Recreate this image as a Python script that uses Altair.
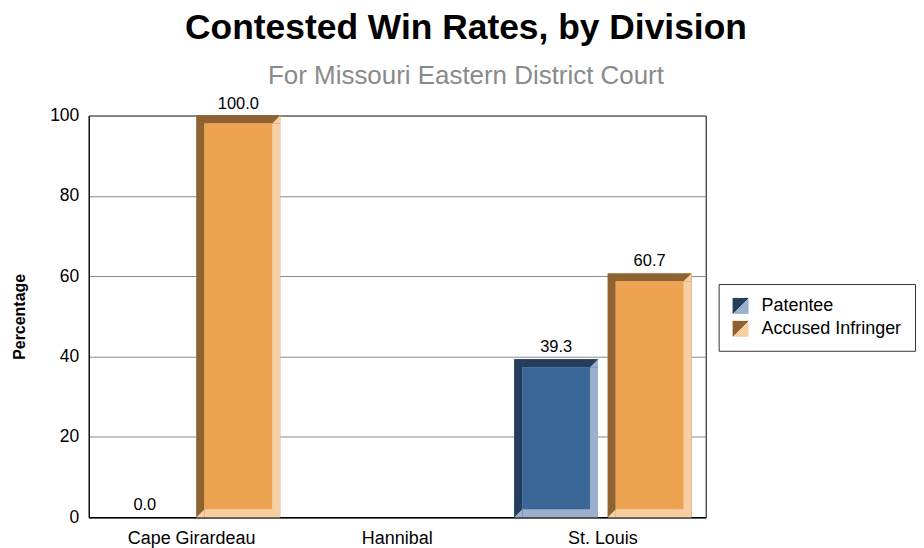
import altair as alt
import pandas as pd

# ---- data ----
divisions = ["Cape Girardeau", "Hannibal", "St. Louis"]
series = ["Patentee", "Accused Infringer"]
row_division = ["Cape Girardeau", "Cape Girardeau", "St. Louis", "St. Louis"]
row_series = ["Patentee", "Accused Infringer", "Patentee", "Accused Infringer"]
row_value = [0.0, 100.0, 39.3, 60.7]
y_ticks = [0, 20, 40, 60, 80, 100]

# ---- styles ----
dark = ["#243d5c", "#8f6231"]
face = ["#3a6698", "#eea352"]
light = ["#9bb0ca", "#f7cfa2"]
FONT = "Liberation Sans"
W, H = 619, 403
BW = W / 3.0
BAR_W = 84
BEV = 8

df = pd.DataFrame({"division": row_division, "series": row_series, "value": row_value})


def grad(d, l):
    return {"expr": "{gradient: 'linear', x1: 0, y1: 0, x2: 1, y2: 1, stops: ["
            "{offset: 0, color: '%s'}, {offset: 0.5, color: '%s'}, "
            "{offset: 0.5, color: '%s'}, {offset: 1, color: '%s'}]}" % (d, d, l, l)}


x_enc = alt.X(
    "division:N",
    scale=alt.Scale(domain=divisions, paddingInner=0, paddingOuter=0),
    axis=alt.Axis(title=None, labelAngle=0, ticks=False, labelFontSize=18,
                  labelFont=FONT, labelColor="black", labelPadding=12,
                  domainColor="black", domainWidth=1.5, grid=False),
)
y_enc = alt.Y(
    "value:Q", stack=None,
    scale=alt.Scale(domain=[0, 100]),
    axis=alt.Axis(title="Percentage", values=y_ticks, ticks=False, labelFontSize=17.5,
                  labelFont=FONT, labelColor="black", labelPadding=10,
                  titleFont=FONT, titleFontSize=16, titleFontWeight="bold",
                  titleColor="black", titlePadding=22,
                  domainColor="black", gridColor="#8a8a8a", gridWidth=1),
)


def xo(shift):
    return alt.XOffset("series:N", scale=alt.Scale(type="band", domain=series,
                                                   paddingInner=0.1, paddingOuter=0.15,
                                                   range=[shift, BW + shift]))


def col(rng, legend=None):
    return alt.Color("series:N", scale=alt.Scale(domain=series, range=rng), legend=legend)


base = alt.Chart(df)
bars = base.transform_filter("datum.value > 0")

legend = alt.Legend(orient="none", legendX=632, legendY=169, title=None,
                    symbolType="square", symbolSize=256, symbolStrokeWidth=0,
                    labelFontSize=18, labelFont=FONT, labelColor="black",
                    labelOffset=12, rowPadding=5, padding=13,
                    strokeColor="#333333", fillColor="white")

legend_layer = bars.mark_bar(width=BAR_W).encode(
    x=x_enc, xOffset=xo(0), y=y_enc, y2=alt.datum(0),
    color=col([grad(dark[0], light[0]), grad(dark[1], light[1])], legend=legend),
)

outer = bars.mark_bar(width=BAR_W).encode(
    x=x_enc, xOffset=xo(0), y=y_enc, y2=alt.datum(0), color=col(dark)
)
right_low = bars.mark_bar(width=BAR_W - BEV, yOffset=BEV).encode(
    x=x_enc, xOffset=xo(BEV / 2), y=y_enc, y2=alt.datum(0), color=col(light)
)
corner_tr = bars.mark_point(shape="M 1 -1 L 1 1 L -1 1 Z", size=BEV * BEV, filled=True,
                            opacity=1, strokeWidth=0, yOffset=BEV / 2).encode(
    x=x_enc, xOffset=xo(BAR_W / 2 - BEV / 2), y=y_enc, color=col(light)
)
corner_bl = bars.mark_point(shape="M 1 -1 L 1 1 L -1 1 Z", size=BEV * BEV, filled=True,
                            opacity=1, strokeWidth=0, yOffset=-BEV / 2).encode(
    x=x_enc, xOffset=xo(-(BAR_W / 2 - BEV / 2)), y=alt.datum(0), color=col(light)
)
face_layer = bars.mark_bar(width=BAR_W - 2 * BEV, yOffset=BEV, y2Offset=-BEV).encode(
    x=x_enc, xOffset=xo(0), y=y_enc, y2=alt.datum(0), color=col(face)
)
labels = base.mark_text(baseline="bottom", dy=-4, fontSize=16.5, font=FONT, color="black").encode(
    x=x_enc, xOffset=xo(0), y=y_enc, text=alt.Text("value:Q", format=".1f")
)

chart = alt.layer(
    legend_layer, outer, right_low, corner_tr, corner_bl, face_layer, labels
).resolve_scale(
    color="independent", xOffset="independent"
).properties(
    width=W, height=H,
    padding={"left": 3, "top": 2, "right": 0, "bottom": 0},
    title=alt.Title(
        "Contested Win Rates, by Division",
        subtitle="For Missouri Eastern District Court",
        font=FONT, fontSize=35.5, fontWeight="bold", color="black",
        subtitleFont=FONT, subtitleFontSize=26, subtitleColor="#8a8a8a",
        subtitlePadding=16, anchor="middle", dx=69, offset=7,
    ),
).configure_view(stroke="black", strokeWidth=1)

chart.save("out.html", embed_options={"renderer": "svg", "actions": False})
